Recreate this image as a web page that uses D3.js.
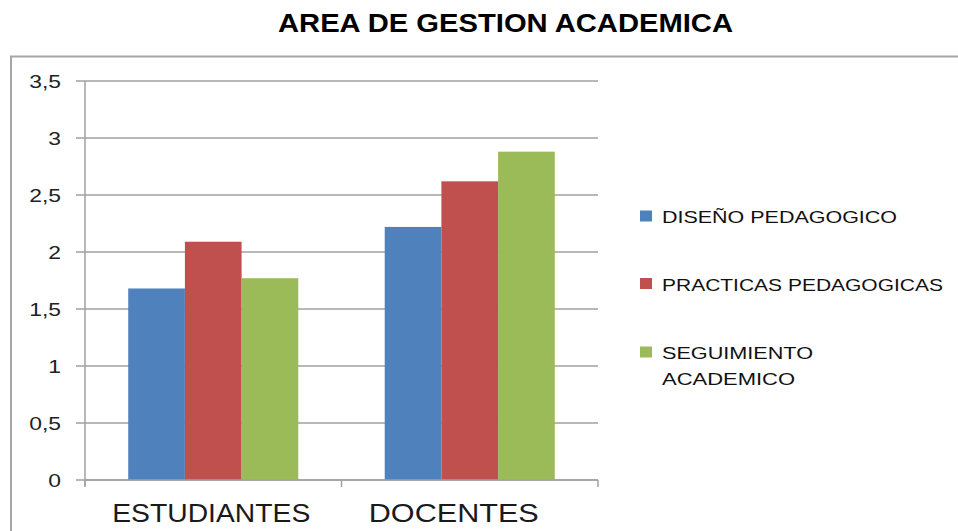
<!DOCTYPE html>
<html>
<head>
<meta charset="utf-8">
<script src="https://cdn.jsdelivr.net/npm/d3@7"></script>
<style>
  body { margin:0; background:#fff; }
  text { font-family: "Liberation Sans", Arial, sans-serif; }
</style>
</head>
<body>
<div id="chart"></div>
<script>
// datos del grafico
var categorias = ["ESTUDIANTES", "DOCENTES"];
var series = ["DISEÑO PEDAGOGICO", "PRACTICAS PEDAGOGICAS", "SEGUIMIENTO ACADEMICO"];
var diseno = [1.68, 2.22];
var practicas = [2.09, 2.62];
var seguimiento = [1.77, 2.88];
var yTicks = [0, 0.5, 1, 1.5, 2, 2.5, 3, 3.5];

var colores = ["#4f81bd", "#c0504d", "#9bbb59"];
var valores = [diseno, practicas, seguimiento];

var W = 958, H = 531;
var svg = d3.select("#chart").append("svg").attr("width", W).attr("height", H);

// marco exterior
svg.append("rect")
  .attr("x", 11).attr("y", 56.5)
  .attr("width", 1000).attr("height", 600)
  .attr("fill", "none").attr("stroke", "#a6a6a6").attr("stroke-width", 2);

// titulo
svg.append("text")
  .attr("x", 278).attr("y", 31.5)
  .attr("textLength", 455).attr("lengthAdjust", "spacingAndGlyphs")
  .style("font-size", "25px").style("font-weight", "bold").attr("fill", "#000")
  .text("AREA DE GESTION ACADEMICA");

var pLeft = 85, pRight = 598, pTop = 81, pBottom = 480;

var x0 = d3.scaleBand().domain(categorias).range([pLeft, pRight])
  .paddingInner(0.337).paddingOuter(0.1685);
var x1 = d3.scaleBand().domain(series).range([0, x0.bandwidth()]);
var y = d3.scaleLinear().domain([0, 3.5]).range([pBottom, pTop]);

// lineas de division
svg.append("g").selectAll("line").data(yTicks).enter().append("line")
  .attr("x1", pLeft - 9).attr("x2", pRight)
  .attr("y1", function(d){ return y(d); }).attr("y2", function(d){ return y(d); })
  .attr("stroke", "#a0a0a0").attr("stroke-width", 1.5);

// etiquetas eje y (texto algo ensanchado como en la imagen)
svg.append("g").selectAll("text").data(yTicks).enter().append("text")
  .attr("x", 61).attr("y", function(d){ return y(d) + 6.5; })
  .attr("text-anchor", "end")
  .style("font-size", "18px").attr("fill", "#222")
  .text(function(d){ return String(d).replace(".", ","); })
  .each(function(){
    var w = this.getComputedTextLength() * 1.27;
    d3.select(this).attr("textLength", w).attr("lengthAdjust", "spacingAndGlyphs");
  });

// barras
var grupos = svg.append("g").selectAll("g").data(categorias).enter().append("g")
  .attr("transform", function(d){ return "translate(" + x0(d) + ",0)"; });

grupos.selectAll("rect")
  .data(function(c, i){ return series.map(function(s, k){ return {s: s, v: valores[k][i], k: k}; }); })
  .enter().append("rect")
  .attr("x", function(d){ return x1(d.s); })
  .attr("width", x1.bandwidth())
  .attr("y", function(d){ return y(d.v); })
  .attr("height", function(d){ return y(0) - y(d.v); })
  .attr("fill", function(d){ return colores[d.k]; });

// ejes
svg.append("line").attr("x1", pLeft).attr("x2", pLeft).attr("y1", pTop).attr("y2", pBottom + 6)
  .attr("stroke", "#a0a0a0").attr("stroke-width", 1.5);
svg.append("line").attr("x1", pLeft).attr("x2", pRight).attr("y1", pBottom).attr("y2", pBottom)
  .attr("stroke", "#a0a0a0").attr("stroke-width", 1.5);
var bordes = [pLeft].concat(categorias.map(function(c, i){ return pLeft + x0.step() * (i + 1); }));
svg.append("g").selectAll("line").data(bordes).enter().append("line")
  .attr("x1", function(d){ return d; }).attr("x2", function(d){ return d; })
  .attr("y1", pBottom).attr("y2", pBottom + 7)
  .attr("stroke", "#a0a0a0").attr("stroke-width", 1.5);

// etiquetas eje x
var anchos = {"ESTUDIANTES": 198, "DOCENTES": 170};
svg.append("g").selectAll("text").data(categorias).enter().append("text")
  .attr("x", function(d){ return x0(d) + x0.bandwidth() / 2 - anchos[d] / 2 - (d === "DOCENTES" ? 16 : 2); })
  .attr("y", 521.5)
  .attr("textLength", function(d){ return anchos[d]; }).attr("lengthAdjust", "spacingAndGlyphs")
  .style("font-size", "25px").attr("fill", "#1a1a1a")
  .text(function(d){ return d; });

// leyenda
var leyenda = [
  {lines: ["DISEÑO PEDAGOGICO"], w: [235], y: 216},
  {lines: ["PRACTICAS PEDAGOGICAS"], w: [281], y: 283.5},
  {lines: ["SEGUIMIENTO", "ACADEMICO"], w: [151, 133], y: 352}
];
var lg = svg.append("g").selectAll("g").data(leyenda).enter().append("g");
lg.append("rect")
  .attr("x", 640).attr("y", function(d){ return d.y - 5.5; })
  .attr("width", 12).attr("height", 11)
  .attr("fill", function(d, i){ return colores[i]; });
lg.each(function(d){
  var g = d3.select(this);
  d.lines.forEach(function(t, j){
    g.append("text")
      .attr("x", 662).attr("y", d.y + 7 + j * 26)
      .attr("textLength", d.w[j]).attr("lengthAdjust", "spacingAndGlyphs")
      .style("font-size", "17px").attr("fill", "#111")
      .text(t);
  });
});
</script>
</body>
</html>
